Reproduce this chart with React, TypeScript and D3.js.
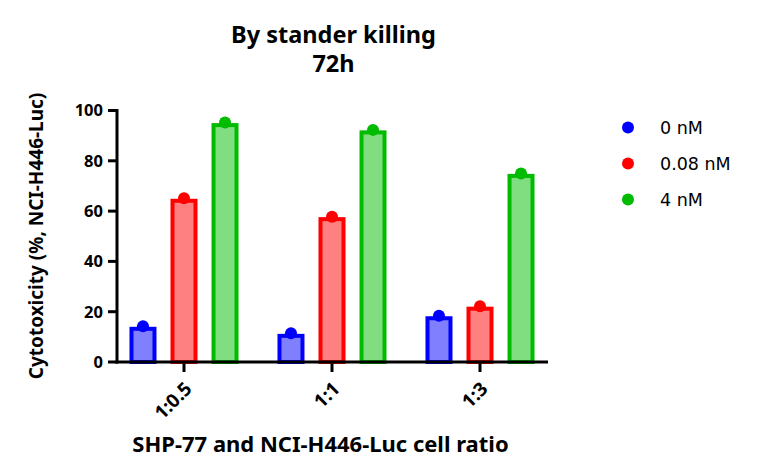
import React from "react";
import * as d3 from "d3";

const categories = ["1:0.5", "1:1", "1:3"];
const seriesNames = ["0 nM", "0.08 nM", "4 nM"];
const blueValues = [13.2, 10.4, 17.4];
const redValues = [64.1, 56.8, 21.2];
const greenValues = [94.2, 91.3, 74];
const yTicks = [0, 20, 40, 60, 80, 100];
const titleLines = ["By stander killing", "72h"];

const strokeColors = ["#0000ff", "#ff0000", "#00bb00"];
const fillColors = ["#8080ff", "#ff8080", "#80dd80"];

const W = 758;
const H = 475;
const FONT = "'Noto Sans', 'Open Sans', sans-serif";
const LEGEND_FONT = "'DejaVu Sans', sans-serif";

export default function App() {
  const series = [blueValues, redValues, greenValues];
  const x0 = 117;
  const xEnd = 548;
  const y = d3.scaleLinear().domain([0, 100]).range([362, 110.5]);
  const x = d3
    .scaleBand<string>()
    .domain(categories)
    .range([110, 554])
    .paddingInner(0)
    .paddingOuter(0);
  const inner = d3
    .scaleBand<number>()
    .domain([0, 1, 2])
    .range([-60.5, 60.5])
    .paddingInner(0.35)
    .paddingOuter(0.15);
  const barW = 23;

  return (
    <svg
      width={W}
      height={H}
      style={{ position: "absolute", left: 0, top: 0, background: "#fff" }}
      fontFamily={FONT}
    >
      {/* title */}
      <text x={333.5} y={43} textAnchor="middle" fontSize={23.5} fontWeight={700}>
        {titleLines.map((l, i) => (
          <tspan key={l} x={333.5} dy={i === 0 ? 0 : 28.5}>
            {l}
          </tspan>
        ))}
      </text>

      {/* bars */}
      {categories.map((c, ci) => {
        const cx = (x(c) as number) + x.bandwidth() / 2;
        return series.map((vals, si) => {
          const bx = cx + (inner(si) as number) + inner.bandwidth() / 2;
          const v = vals[ci];
          return (
            <g key={`${ci}-${si}`}>
              <rect
                x={bx - barW / 2}
                y={y(v)}
                width={barW}
                height={y(0) - y(v)}
                fill={fillColors[si]}
                stroke={strokeColors[si]}
                strokeWidth={4}
              />
              <circle cx={bx} cy={y(v) - 2.5} r={6} fill={strokeColors[si]} />
            </g>
          );
        });
      })}

      {/* y axis */}
      <line x1={x0} x2={x0} y1={y(100) - 1.5} y2={y(0) + 1.5} stroke="#000" strokeWidth={3} />
      {yTicks.map((t) => (
        <g key={t}>
          <line x1={x0 - 9} x2={x0} y1={y(t)} y2={y(t)} stroke="#000" strokeWidth={3} />
          <text
            x={x0 - 14}
            y={y(t)}
            dy="0.36em"
            textAnchor="end"
            fontSize={16.5}
            fontWeight={700}
          >
            {t}
          </text>
        </g>
      ))}

      {/* x axis */}
      <line x1={x0 - 1.5} x2={xEnd} y1={y(0)} y2={y(0)} stroke="#000" strokeWidth={3} />
      {categories.map((c) => {
        const cx = (x(c) as number) + x.bandwidth() / 2;
        return (
          <g key={c}>
            <line x1={cx} x2={cx} y1={y(0)} y2={y(0) + 10} stroke="#000" strokeWidth={3} />
            <text
              transform={`translate(${cx + 9},${y(0) + 28}) rotate(-45)`}
              textAnchor="end"
              fontSize={19}
              fontWeight={700}
            >
              {c}
            </text>
          </g>
        );
      })}

      {/* axis titles */}
      <text
        transform={`translate(43,236) rotate(-90)`}
        textAnchor="middle"
        fontSize={19}
        fontWeight={700}
      >
        Cytotoxicity (%, NCI-H446-Luc)
      </text>
      <text x={320.5} y={452} textAnchor="middle" fontSize={22} fontWeight={700}>
        SHP-77 and NCI-H446-Luc cell ratio
      </text>

      {/* legend */}
      {seriesNames.map((n, i) => (
        <g key={n} transform={`translate(628,${127.5 + i * 36})`}>
          <circle cx={0} cy={0} r={6} fill={strokeColors[i]} />
          <text x={32} y={0} dy="0.36em" fontSize={17.5} fontFamily={LEGEND_FONT}>
            {n}
          </text>
        </g>
      ))}
    </svg>
  );
}
